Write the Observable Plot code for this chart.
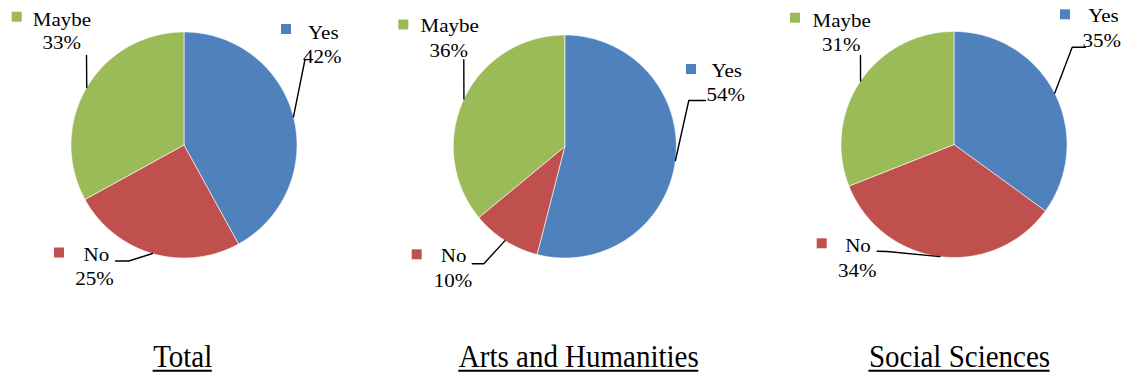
<!DOCTYPE html>
<html><head><meta charset="utf-8">
<script src="https://cdn.jsdelivr.net/npm/d3@7"></script>
<script src="https://cdn.jsdelivr.net/npm/@observablehq/plot@0.6"></script>
<style>
  html, body { margin: 0; padding: 0; background: #fff; }
  #chart svg { display: block; }
  #chart svg text { font-family: "Liberation Serif", "Times New Roman", Times, serif !important; }
</style>
</head><body><div id="chart"></div>
<script>
// ---- data ----
const groups = ["Total", "Arts and Humanities", "Social Sciences"];
const categories = ["Yes", "No", "Maybe"];
const yesPct = [42, 54, 35];
const noPct = [25, 10, 34];
const maybePct = [33, 36, 31];
const categoryColors = ["#4F81BD", "#C0504D", "#9BBB59"];

// ---- layout (pixels) ----
const W = 1124, H = 375;
const FONT = "Liberation Serif";
const pies = [
  {cx: 183.5, cy: 144.5, r: 113},
  {cx: 564.3, cy: 146, r: 111.5},
  {cx: 953.5, cy: 144, r: 113}
];
const titleX = [182.2, 578.3, 959];
const titleBaseline = 366, underlineY = 370.3;
// per group, per category (Yes, No, Maybe): legend square top-left, name center/baseline,
// percent center/baseline, leader points on the label side
const labelLayout = [
  [ {sq: [281, 24],     name: [322.8, 38.3], pct: [321.7, 62.7], lead: [[304.3, 60]]},
    {sq: [54, 247.5],   name: [95.8, 260.7], pct: [94, 284],     lead: [[115, 260.5], [128.3, 260.5]]},
    {sq: [11.7, 11.7],  name: [61.5, 25],    pct: [61.2, 48.3],  lead: [[86, 55]]} ],
  [ {sq: [686, 64],     name: [726.2, 76],   pct: [725.3, 100],  lead: [[705, 100], [688.3, 100]]},
    {sq: [411.7, 249.3],name: [453.2, 261.7],pct: [452.5, 286.7],lead: [[471.7, 263.3], [483.3, 263.3]]},
    {sq: [398.3, 19.5], name: [449.2, 31.7], pct: [448.3, 56],   lead: [[463.3, 59.3]]} ],
  [ {sq: [1060, 9.3],   name: [1103, 21.7],  pct: [1101.3, 46.7],lead: [[1085, 46.7], [1071.7, 46.7]]},
    {sq: [816.7, 238.3],name: [857.5, 251.7],pct: [856.7, 276],  lead: [[876.7, 250.7], [886.7, 251]]},
    {sq: [790, 12.7],   name: [841.2, 26],   pct: [840.7, 50],   lead: [[860, 55]]} ]
];
const squareSize = 10;
const labelFont = 20, titleFont = 29;

// ---- build mark data ----
const valuesByCat = [yesPct, noPct, maybePct];
const slices = [];
const leaders = [];
const squares = [];
const names = [];
const pcts = [];
groups.forEach((g, gi) => {
  const {cx, cy, r} = pies[gi];
  const vals = valuesByCat.map(v => v[gi]);
  const total = d3.sum(vals);
  let acc = 0;
  vals.forEach((v, ci) => {
    const a0 = acc / total * 2 * Math.PI;
    const a1 = (acc + v) / total * 2 * Math.PI;
    acc += v;
    const pts = [{x: cx, y: cy}];
    const n = Math.max(2, Math.ceil((a1 - a0) / (Math.PI / 360)));
    for (let i = 0; i <= n; i++) {
      const a = a0 + (a1 - a0) * i / n;
      pts.push({x: cx + r * Math.sin(a), y: cy - r * Math.cos(a)});
    }
    pts.push({x: cx, y: cy});
    slices.push({pts, color: categoryColors[ci]});
    const am = (a0 + a1) / 2;
    const L = labelLayout[gi][ci];
    const id = gi + "-" + ci;
    L.lead.forEach(p => leaders.push({id, x: p[0], y: p[1]}));
    leaders.push({id, x: cx + r * Math.sin(am), y: cy - r * Math.cos(am)});
    squares.push({x1: L.sq[0], x2: L.sq[0] + squareSize, y1: L.sq[1], y2: L.sq[1] + squareSize, color: categoryColors[ci]});
    names.push({x: L.name[0], y: L.name[1], text: categories[ci]});
    pcts.push({x: L.pct[0], y: L.pct[1], text: v + "%"});
  });
});

// title underline widths from text metrics
const ctx = document.createElement("canvas").getContext("2d");
ctx.font = `${titleFont}px "${FONT}"`;
const titles = groups.map((g, i) => {
  const w = ctx.measureText(g).width;
  return {text: g, x: titleX[i], y: titleBaseline, x1: titleX[i] - w / 2, x2: titleX[i] + w / 2, uy: underlineY};
});

const chart = Plot.plot({
  width: W, height: H,
  margin: 0,
  x: {domain: [0, W], range: [0, W], axis: null},
  y: {domain: [0, H], range: [0, H], axis: null},
  color: {type: "identity"},
  style: {fontFamily: FONT, background: "#fff", color: "#000"},
  marks: [
    ...slices.map(s => Plot.line(s.pts, {x: "x", y: "y", fill: s.color, stroke: "#fff", strokeWidth: 0.6, strokeLinejoin: "round"})),
    Plot.line(leaders, {x: "x", y: "y", z: "id", stroke: "#000", strokeWidth: 1.4}),
    Plot.rect(squares, {x1: "x1", x2: "x2", y1: "y1", y2: "y2", fill: "color"}),
    Plot.text(names, {x: "x", y: "y", text: "text", fontFamily: FONT, fontSize: labelFont, textAnchor: "middle", lineAnchor: "bottom", fill: "#000"}),
    Plot.text(pcts, {x: "x", y: "y", text: "text", fontFamily: FONT, fontSize: labelFont, textAnchor: "middle", lineAnchor: "bottom", fill: "#000"}),
    Plot.text(titles, {x: "x", y: "y", text: "text", fontFamily: FONT, fontSize: titleFont, textAnchor: "middle", lineAnchor: "bottom", fill: "#000"}),
    Plot.ruleY(titles, {y: "uy", x1: "x1", x2: "x2", stroke: "#000", strokeWidth: 2})
  ]
});
// slight glyph stretch to match the reference's rendering
const textGroups = chart.querySelectorAll('g[aria-label="text"]');
textGroups.forEach((g, k) => {
  const s = k === 2 ? " scale(1,1.1)" : " scale(1.05,0.95)";
  g.querySelectorAll("text").forEach(t => {
    const tr = t.getAttribute("transform");
    if (tr) t.setAttribute("transform", tr + s);
  });
});
document.getElementById("chart").appendChild(chart);
</script>
</body></html>
